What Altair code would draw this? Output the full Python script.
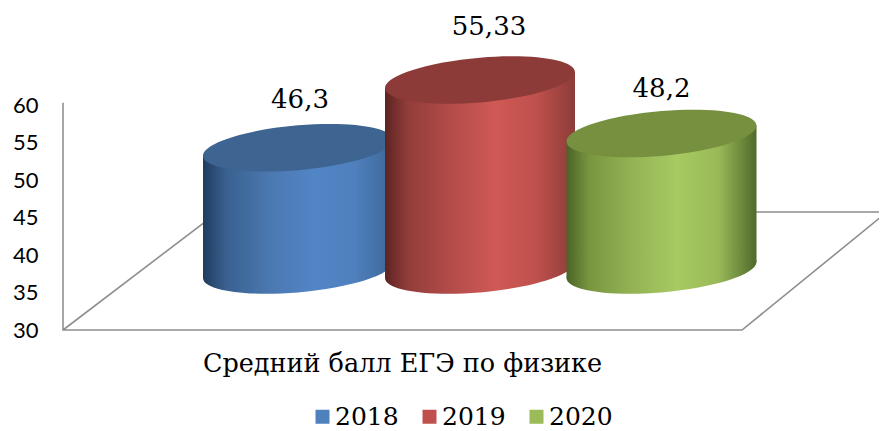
import altair as alt
import pandas as pd

# ---- values ----
years = ["2018", "2019", "2020"]
scores = [46.3, 55.33, 48.2]
score_labels = ["46,3", "55,33", "48,2"]
y_ticks = [30, 35, 40, 45, 50, 55, 60]
axis_title = "Средний балл ЕГЭ по физике"

# ---- styling ----
flat = ["#4f81bd", "#c0504d", "#9bbb59"]
cap_top = ["#3e6491", "#8c3b39", "#77903f"]
stops = [
    ["#213c5e", "#3a6090", "#4a78b0", "#5285c6", "#4f80bd", "#3d6696"],
    ["#5c2422", "#923d3a", "#b44c49", "#cf5955", "#bf504c", "#8c3c39"],
    ["#4a6327", "#79963f", "#94b355", "#a7ca62", "#99b958", "#4f6a2a"],
]
offs = [0, 0.12, 0.35, 0.58, 0.8, 1]
centers = [235, 417, 598.5]     # x position of each cylinder on the x scale
WIDTH = 190
TILT = 8 / 7.5                  # rim tilt in y units
LIFT = -60                      # cylinders stand back from the front floor edge
label_dx = [2, 9, 0]
label_dy = [-48, -53, -45]
AXIS_FONT = "Lato"
SERIF = "DejaVu Serif"

# rim outline, a sheared ellipse on a -1..1 box
s, b, k = 16 / 190, 0.2356, 0.5523
pts = [
    (-1, s),
    (-1, k * b + s), (-k, b + s * k), (0, b),
    (k, b - s * k), (1, k * b - s), (1, -s),
    (1, -k * b - s), (k, -b - s * k), (0, -b),
    (-k, -b + s * k), (-1, -k * b + s), (-1, s),
]
f = lambda p: f"{p[0]:.4f},{p[1]:.4f}"
rim = "M" + f(pts[0]) + "".join(
    "C" + " ".join(f(p) for p in pts[i:i + 3]) for i in range(1, 13, 3)
) + "Z"

xs = alt.Scale(domain=[0, 816], nice=False, zero=False)
ys = alt.Scale(domain=[30, 60], nice=False, zero=False)

x_axis = alt.Axis(
    title=axis_title, labels=False, ticks=False, domain=False, grid=False,
    titleFont=SERIF, titleFontSize=25.5, titleFontWeight="normal", titleColor="#000000",
    titleX=339, titleY=33, titleAlign="center", titleBaseline="middle")
y_axis = alt.Axis(
    title=None, values=y_ticks, domain=False, ticks=False, grid=False,
    labelFont=AXIS_FONT, labelFontSize=22, labelColor="#000000", labelPadding=25,
    labelBaseline="middle", labelOverlap=False)


def X(field):
    return alt.X(field, scale=xs, axis=x_axis, title=axis_title)


def Y(field):
    return alt.Y(field, scale=ys, axis=y_axis, title=None)


# floor and wall outline
floor = pd.DataFrame({
    "x": [0, 0, 679, 824, 155, 0],
    "y": [60.3, 30, 30, 45.73, 45.73, 30],
    "o": range(6),
})
base = alt.Chart(floor).mark_line(color="#8f8f8f", strokeWidth=1.6, clip=False).encode(
    x=X("x:Q"), y=Y("y:Q"), order="o:Q",
)

summary = pd.DataFrame({"year": years, "score": scores, "c": centers, "t": score_labels})

legend_seed = alt.Chart(summary).mark_square(size=4, opacity=1).encode(
    x=X("c:Q"),
    y=Y("score:Q"),
    color=alt.Color("year:N", scale=alt.Scale(domain=years, range=flat), legend=alt.Legend(
        title=None, orient="none", legendX=247, legendY=299, direction="horizontal",
        symbolType="square", symbolSize=196, symbolStrokeWidth=0,
        labelFont=SERIF, labelFontSize=25, labelColor="#000000",
        columnPadding=18, labelOffset=0)),
)

layers = [base, legend_seed]
for i, year in enumerate(years):
    grad = {
        "gradient": "linear", "x1": 0, "x2": 1, "y1": 0, "y2": 0,
        "stops": [{"offset": o, "color": c} for o, c in zip(offs, stops[i])],
    }
    row = summary[summary.year == year]
    cap_low = alt.Chart(row).transform_calculate(low="30").mark_point(
        shape=rim, size=WIDTH ** 2, filled=True, fill=grad, strokeWidth=0, opacity=1, yOffset=LIFT
    ).encode(x=X("c:Q"), y=Y("low:Q"))
    body_df = pd.DataFrame({
        "x": [centers[i] - WIDTH / 2, centers[i] + WIDTH / 2],
        "top": [scores[i] - TILT, scores[i] + TILT],
        "bot": [30 - TILT, 30 + TILT],
    })
    body = alt.Chart(body_df).mark_area(
        fill=grad, orient="vertical", yOffset=LIFT, y2Offset=LIFT
    ).encode(x=X("x:Q"), y=Y("top:Q"), y2="bot:Q")
    cap_up = alt.Chart(row).mark_point(
        shape=rim, size=WIDTH ** 2, filled=True, fill=cap_top[i], strokeWidth=0, opacity=1, yOffset=LIFT
    ).encode(x=X("c:Q"), y=Y("score:Q"))
    label = alt.Chart(row).mark_text(
        font=SERIF, fontSize=26, color="#000000", align="center", baseline="middle",
        dx=label_dx[i], yOffset=LIFT + label_dy[i]
    ).encode(x=X("c:Q"), y=Y("score:Q"), text="t:N")
    layers += [cap_low, body, cap_up]
    layers.append(label)

chart = alt.layer(*layers).properties(
    width=816, height=225,
    autosize=alt.AutoSizeParams(type="none"),
    padding={"left": 55, "top": 97, "right": 0, "bottom": 101},
    background="#ffffff",
).configure_view(stroke=None)

chart.save("out.html", embed_options={"renderer": "svg", "actions": False})
